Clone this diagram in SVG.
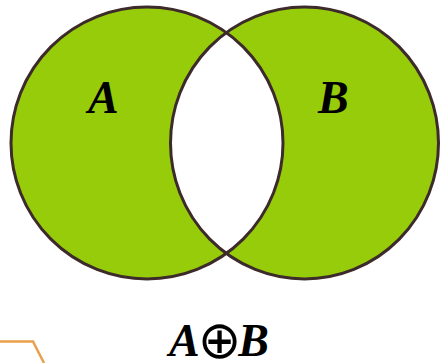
<svg xmlns="http://www.w3.org/2000/svg" width="440" height="363" viewBox="0 0 440 363">
<style>
.set{fill:#97CC0A}
.edge{fill:none;stroke:#3D2A2A;stroke-width:3}
.lbl{font-family:"Liberation Serif","Times New Roman",serif;font-weight:bold;font-style:italic;font-size:46px;fill:#000}
.op{font-family:"DejaVu Sans",sans-serif;font-style:normal;font-weight:normal;font-size:52px}
</style>
<defs>
<clipPath id="clipA"><ellipse cx="147" cy="143" rx="136" ry="136"/></clipPath>
</defs>
<rect width="440" height="363" fill="#fff"/>
<g id="setA">
<ellipse class="set" cx="147" cy="143" rx="136" ry="136"/>
</g>
<g id="setB">
<ellipse class="set" cx="304.5" cy="143" rx="134" ry="136"/>
</g>
<g id="intersection">
<ellipse cx="304.5" cy="143" rx="134" ry="136" fill="#fff" clip-path="url(#clipA)"/>
</g>
<g id="outlines">
<ellipse class="edge" cx="147" cy="143" rx="136" ry="136"/>
<ellipse class="edge" cx="304.5" cy="143" rx="134" ry="136"/>
</g>
<g id="labels">
<text class="lbl" x="88" y="113">A</text>
<text class="lbl" x="318" y="113">B</text>
<text class="lbl" x="219" y="356" text-anchor="middle">A<tspan class="op" dx="-2" dy="2">⊕</tspan><tspan dx="-3" dy="-2">B</tspan></text>
</g>
<g id="corner">
<polyline points="0,341.5 33,341.5 44,363" fill="none" stroke="#E9A04A" stroke-width="2.5"/>
</g>
</svg>
